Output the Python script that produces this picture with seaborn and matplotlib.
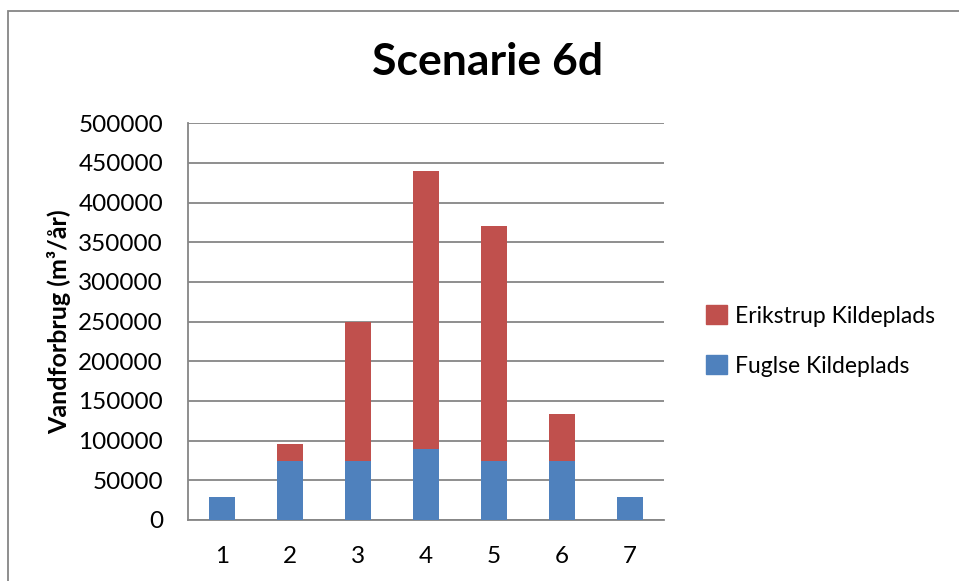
import pandas as pd
import numpy as np
import matplotlib
matplotlib.use("Agg")
import matplotlib.pyplot as plt
import seaborn as sns
from matplotlib.patches import Patch, Rectangle

# data
scenarier = ['1', '2', '3', '4', '5', '6', '7']
fuglse = [28500, 74000, 74000, 90000, 74000, 74000, 28500]
erikstrup = [0, 22000, 176000, 350000, 296000, 59000, 0]
y_ticks = [0, 50000, 100000, 150000, 200000, 250000, 300000, 350000, 400000, 450000, 500000]

blue = '#4F81BD'
red = '#C0504D'
grey = '#868686'

df = pd.DataFrame({'Scenarie': scenarier, 'Fuglse': fuglse, 'Erikstrup': erikstrup})
df['Total'] = df['Fuglse'] + df['Erikstrup']

sns.set_style('white')
plt.rcParams['font.family'] = ['Lato', 'DejaVu Sans']
plt.rcParams['text.color'] = 'black'
plt.rcParams['xtick.color'] = 'black'
plt.rcParams['ytick.color'] = 'black'
plt.rcParams['axes.labelcolor'] = 'black'

fig = plt.figure(figsize=(9.59, 5.81), dpi=100)
ax = fig.add_axes([188 / 959, 1 - 520 / 581, (664 - 188) / 959, (520 - 123.3) / 581])

# stacked: total in red, then the blue part on top of it
sns.barplot(data=df, x='Scenarie', y='Total', color=red, width=0.39, saturation=1, linewidth=0, ax=ax, zorder=3)
sns.barplot(data=df, x='Scenarie', y='Fuglse', color=blue, width=0.39, saturation=1, linewidth=0, ax=ax, zorder=4)

ax.set_xlim(-0.5, len(scenarier) - 0.5)
ax.set_ylim(0, 500000)
ax.set_yticks(y_ticks)
ax.set_yticklabels([str(v) for v in y_ticks], fontsize=17.5)
ax.set_xticks(range(len(scenarier)))
ax.set_xticklabels(scenarier, fontsize=17.5)
ax.set_xticks(np.arange(-0.5, len(scenarier)), minor=True)
ax.tick_params(axis='x', which='major', length=0, pad=19)
ax.tick_params(axis='x', which='minor', length=9, width=1.2, color=grey, direction='out')
ax.tick_params(axis='y', length=8, width=1.2, color=grey, labelcolor='black', direction='out', pad=10)

ax.grid(axis='y', color=grey, linewidth=1.3, zorder=0)
ax.set_axisbelow(True)
for s in ['top', 'right']:
    ax.spines[s].set_visible(False)
for s in ['left', 'bottom']:
    ax.spines[s].set_color(grey)
    ax.spines[s].set_linewidth(1.3)

ax.set_xlabel('')
ax.set_ylabel('Vandforbrug (m³/år)', fontsize=18, fontweight='bold', labelpad=5)

fig.text(488 / 959, 1 - 62 / 581, 'Scenarie 6d', ha='center', va='center', fontsize=32, fontweight='bold')

handles = [Patch(color=red, label='Erikstrup Kildeplads'), Patch(color=blue, label='Fuglse Kildeplads')]
fig.legend(handles=handles, loc='center left', bbox_to_anchor=(706 / 959, 1 - 341 / 581), frameon=False,
           fontsize=16.5, borderpad=0, borderaxespad=0, handlelength=0.9, handleheight=0.9,
           handletextpad=0.35, labelspacing=1.25)

# chart frame like the original
fig.patches.append(Rectangle((8 / 959, -0.1), 2, 1.1 - 11 / 581, transform=fig.transFigure,
                             fill=False, edgecolor=grey, linewidth=1.3))

fig.savefig('out.png', dpi=100)
